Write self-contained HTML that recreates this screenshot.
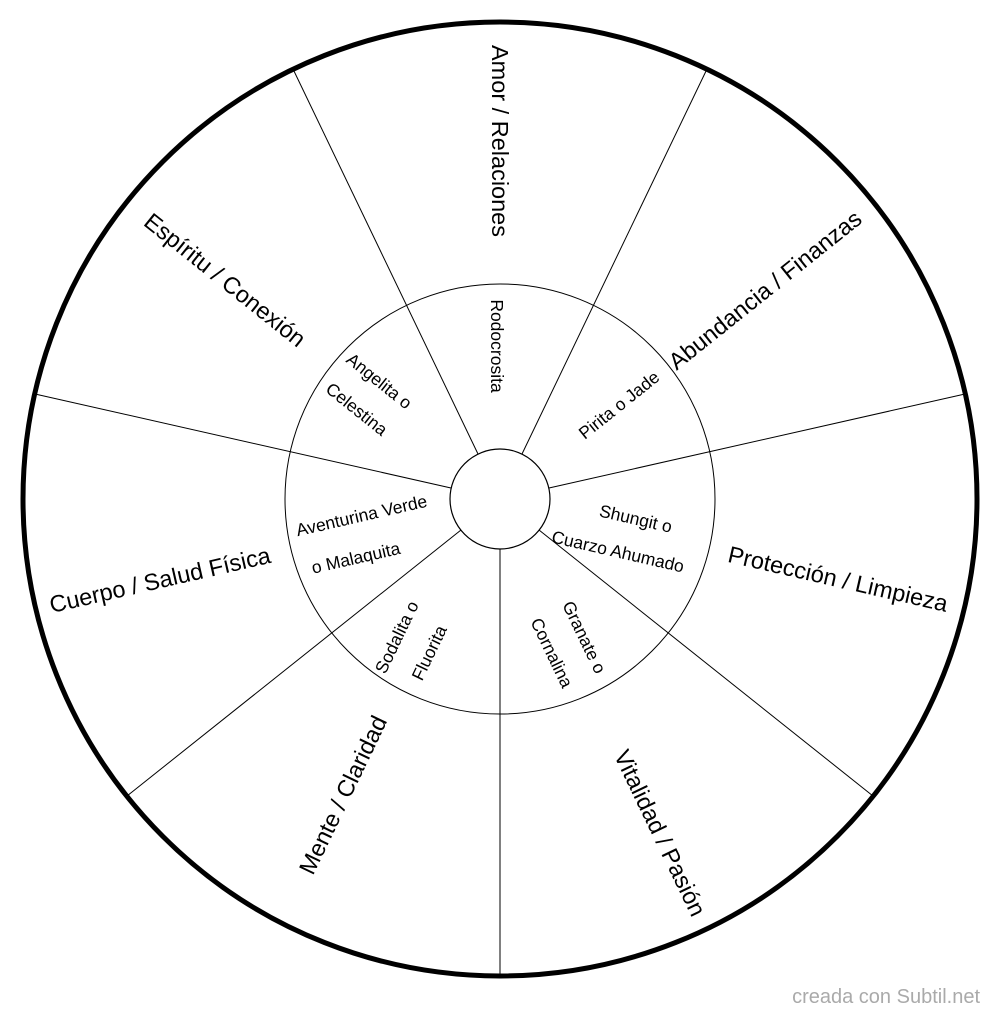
<!DOCTYPE html>
<html><head><meta charset="utf-8"><style>
html,body{margin:0;padding:0;background:#fff;}
svg{display:block;}
text{font-family:"Liberation Sans",Arial,sans-serif;fill:#000;}
</style></head><body>
<svg width="1000" height="1016" viewBox="0 0 1000 1016" xmlns="http://www.w3.org/2000/svg">
<rect width="1000" height="1016" fill="#fff"/>
<circle cx="500" cy="499" r="477" fill="none" stroke="#000" stroke-width="5"/>
<circle cx="500" cy="499" r="215" fill="none" stroke="#000" stroke-width="1"/>
<circle cx="500" cy="499" r="50" fill="none" stroke="#000" stroke-width="1.2"/>
<g stroke="#000" stroke-width="1">
<line x1="500" y1="549" x2="500" y2="976"/>
<line x1="461" y1="530" x2="127" y2="796"/>
<line x1="451" y1="488" x2="35" y2="394"/>
<line x1="478" y1="454" x2="293" y2="69"/>
<line x1="522" y1="454" x2="707" y2="69"/>
<line x1="549" y1="488" x2="965" y2="394"/>
<line x1="539" y1="530" x2="873" y2="796"/>
</g>
<g font-size="23.5" text-anchor="middle" dominant-baseline="central">
<text transform="translate(500,141) rotate(90)">Amor / Relaciones</text>
<text transform="translate(765,290) rotate(-38.6)">Abundancia / Finanzas</text>
<text transform="translate(838,579) rotate(12.9)">Protección / Limpieza</text>
<text transform="translate(660,833) rotate(64.3)">Vitalidad / Pasión</text>
<text transform="translate(343,795) rotate(-64.3)">Mente / Claridad</text>
<text transform="translate(160,580) rotate(-12.9)">Cuerpo / Salud Física</text>
<text transform="translate(225,280) rotate(38.6)">Espíritu / Conexión</text>
</g>
<g font-size="17.5" text-anchor="middle" dominant-baseline="central">
<text transform="translate(497,346) rotate(90)">Rodocrosita</text>
<text transform="translate(619,405) rotate(-38.6)">Pirita o Jade</text>
<g transform="translate(622,534) rotate(12.9)"><text x="10" y="-18">Shungit o</text><text y="18">Cuarzo Ahumado</text></g>
<g transform="translate(568,645) rotate(64.3)"><text y="-18">Granate o</text><text y="18">Cornalina</text></g>
<g transform="translate(413,645) rotate(-64.3)"><text y="-18">Sodalita o</text><text y="18">Fluorita</text></g>
<g transform="translate(366,535) rotate(-12.9)"><text y="-20">Aventurina Verde</text><text x="-15" y="20">o Malaquita</text></g>
<g transform="translate(368,395) rotate(38.6)"><text y="-18">Angelita o</text><text y="18">Celestina</text></g>
</g>
<text x="980" y="997" font-size="20" style="fill:#aaa" text-anchor="end" dominant-baseline="central">creada con Subtil.net</text>
</svg>
</body></html>
